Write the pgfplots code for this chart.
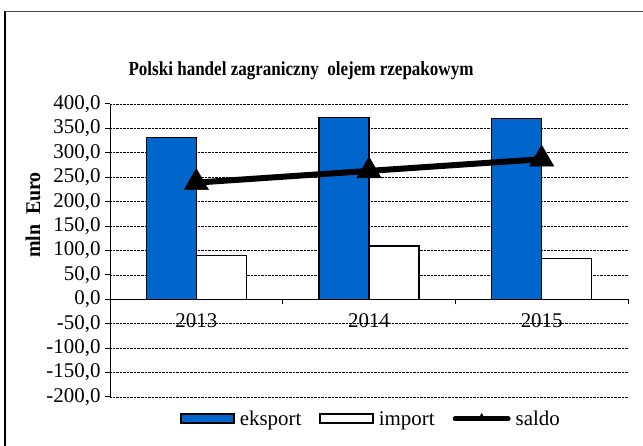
\documentclass[border=0pt]{standalone}
\usepackage{pgfplots}
\pgfplotsset{compat=1.18}
\usepackage{fontspec}
\setmainfont{Liberation Serif}
\definecolor{ebar}{HTML}{0066CC}
\begin{document}
\begin{tikzpicture}[x=1bp,y=1bp]
\useasboundingbox (0,0) rectangle (643,446);
\draw[line width=1.2bp, black] (5,0) -- (5,434.5);
\draw[line width=1.5bp, black!70] (5,434.5) -- (643,434.5);
\node[font=\bfseries\fontsize{20}{22}\selectfont] at (301,375) {\scalebox{0.855}[1]{Polski handel zagraniczny\ \ olejem rzepakowym}};
\node[font=\bfseries\fontsize{21}{22}\selectfont, rotate=90] at (33,231) {\scalebox{0.95}[1]{mln\ \ Euro}};
\begin{axis}[
  at={(110bp,49bp)}, anchor=south west,
  scale only axis, width=518bp, height=293bp,
  xmin=0.5, xmax=3.5, ymin=-200, ymax=400,
  axis y line=left, axis x line=middle,
  axis line style={line width=1bp, -},
  ytick={-200,-150,...,400},
  ymajorgrids, grid style={densely dotted, line width=0.8bp, black},
  y tick style={line width=1bp, black},
  tick align=outside, major tick length=5bp,
  yticklabel style={font=\fontsize{21}{22}\selectfont, xshift=-1bp},
  /pgf/number format/.cd, fixed, fixed zerofill, precision=1, use comma, 1000 sep={}, assume math mode=true,
  /pgfplots/.cd,
  xtick={1.5,2.5,3.5}, xticklabels={},
  x tick style={line width=1bp, black},
  extra x ticks={1,2,3}, extra x tick labels={2013,2014,2015},
  extra x tick style={major tick length=0pt, tick style={draw=none}, ticklabel style={font=\fontsize{21}{22}\selectfont, yshift=-11bp}},
  clip=false,
  legend style={at={(0.504,-0.075)}, anchor=center, draw=none, legend columns=3, font=\fontsize{21}{22}\selectfont,
    /tikz/every even column/.append style={column sep=16bp},
    /tikz/every odd column/.append style={column sep=3bp}, inner sep=0pt},
  legend cell align=left,
]
\addplot[ybar, bar width=50bp, bar shift=-25bp, fill=ebar, draw=black, line width=1.5bp,
  legend image code/.code={\draw[fill=ebar, draw=black, line width=1.5bp] (0bp,-4bp) rectangle (53bp,5bp);}]
  coordinates {(1,331) (2,372) (3,370)};
\addlegendentry{eksport}
\addplot[ybar, bar width=50bp, bar shift=25bp, fill=white, draw=black, line width=1.5bp,
  legend image code/.code={\draw[fill=white, draw=black, line width=1.5bp] (0bp,-4bp) rectangle (53bp,5bp);}]
  coordinates {(1,90) (2,109) (3,84)};
\addlegendentry{import}
\addplot[black, line width=6bp, mark=triangle*, mark size=14bp, mark options={line width=0.5bp},
  legend image code/.code={\draw[black, line width=5bp, line cap=round] (0bp,0bp) -- (53bp,0bp);
   \path[fill=black, draw=none] (22bp,-2bp) -- (31bp,-2bp) -- (26.5bp,6bp) -- cycle;}]
  coordinates {(1,239) (2,263) (3,287)};
\addlegendentry{saldo}
\end{axis}
\end{tikzpicture}
\end{document}
